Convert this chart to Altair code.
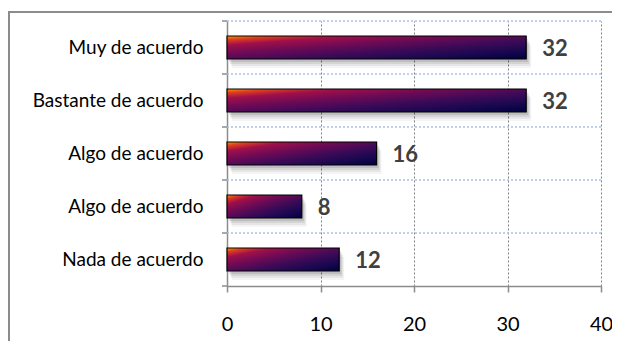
import altair as alt
import pandas as pd

categories = ["Muy de acuerdo", "Bastante de acuerdo", "Algo de acuerdo", "Algo de acuerdo", "Nada de acuerdo"]
values = [32, 32, 16, 8, 12]
x_ticks = [0, 10, 20, 30, 40]

keys = [str(i) for i in range(len(categories))]
df = pd.DataFrame({"key": keys, "label": categories, "value": values})

W, H = 374, 265
band = H / len(categories)
FONT = "Lato"

label_array = "[" + ",".join("'" + c + "'" for c in categories) + "]"
label_expr = label_array + "[toNumber(datum.value)]"

y_enc = alt.Y(
    "key:N",
    sort=keys,
    scale=alt.Scale(paddingInner=0, paddingOuter=0),
    axis=alt.Axis(
        labelExpr=label_expr,
        ticks=False,
        grid=False,
        domainColor="#8c8c8c",
        domainWidth=1.5,
        labelPadding=24,
        labelFontSize=19,
        labelFont=FONT,
        labelColor="#000000",
        title=None,
    ),
)
x_enc = alt.X(
    "value:Q",
    scale=alt.Scale(domain=[0, 40]),
    axis=alt.Axis(
        values=x_ticks,
        grid=True,
        gridColor="#7f7f7f",
        gridDash=[2, 2],
        gridWidth=1,
        domainColor="#8c8c8c",
        domainWidth=1.5,
        tickColor="#8c8c8c",
        tickWidth=1.5,
        tickSize=6,
        labelFontSize=20,
        labelFont=FONT,
        labelPadding=22,
        labelFlush=False,
        labelColor="#000000",
        title=None,
    ),
)

base = alt.Chart(df)

hgrid = base.mark_rule(color="#a9c1e8", strokeDash=[2, 2], strokeWidth=1.5, yOffset=-band / 2).encode(
    y=y_enc, x=alt.value(0), x2=alt.value(W)
)
yticks = base.mark_rule(color="#8c8c8c", strokeWidth=1.5, yOffset=-band / 2).encode(
    y=y_enc, x=alt.value(-5), x2=alt.value(0)
)
one = alt.Chart(pd.DataFrame({"a": [0]}))
bottom_tick = one.mark_rule(color="#8c8c8c", strokeWidth=1.5).encode(
    y=alt.value(H), x=alt.value(-5), x2=alt.value(0)
)
border = one.mark_rect(fill="transparent", stroke="#8c8c8c", strokeWidth=2).encode(
    x=alt.value(-218), y=alt.value(-9), x2=alt.value(W + 60), y2=alt.value(H + 80)
)

shadows = [
    base.mark_bar(color="#000000", opacity=op, size=23, xOffset=dx, yOffset=dy).encode(x=x_enc, y=y_enc)
    for dx, dy, op in [(2, 3, 0.10), (3, 5, 0.08), (4, 7, 0.06), (5, 9, 0.04)]
]

grad = alt.Gradient(
    gradient="linear",
    stops=[
        alt.GradientStop(color="#ff9c00", offset=0.0),
        alt.GradientStop(color="#e0401f", offset=0.08),
        alt.GradientStop(color="#a0104a", offset=0.2),
        alt.GradientStop(color="#700a55", offset=0.38),
        alt.GradientStop(color="#3c0a58", offset=0.6),
        alt.GradientStop(color="#1a0850", offset=0.8),
        alt.GradientStop(color="#000040", offset=1.0),
    ],
    x1=0, y1=0, x2=1, y2=1,
)

bars = base.mark_bar(color=grad, size=23, stroke="#000000", strokeWidth=1.2).encode(x=x_enc, y=y_enc)

texts = base.mark_text(
    align="left", baseline="middle", dx=16, dy=1, fontSize=22, fontWeight="bold", color="#404040", font=FONT
).encode(x=x_enc, y=y_enc, text="value:Q")

chart = alt.layer(border, hgrid, yticks, bottom_tick, *shadows, bars, texts).properties(
    width=W,
    height=H,
    padding={"left": 219, "top": 13, "right": 11, "bottom": 55},
    autosize="none",
).configure_view(stroke=None)

chart.save("out.html", embed_options={"renderer": "svg", "actions": False})
